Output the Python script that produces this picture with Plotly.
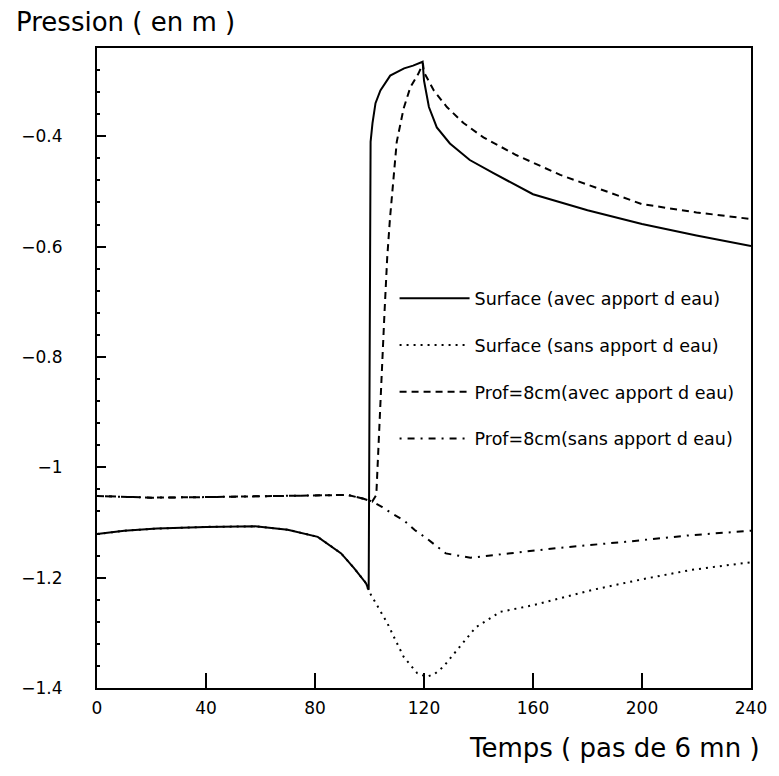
import plotly.graph_objects as go

# ---- data ----
t_surf_avec = [0, 10, 22, 40, 58, 70, 81, 89.6, 94.4, 98.7, 99.7, 100.0, 100.2, 100.4, 101.1, 102.2, 104, 107.6, 112.7, 116, 119.5,
               120, 121.8, 124.7, 129.5, 136.8, 145.5, 153.8, 160, 180, 200, 220, 240]
p_surf_avec = [-1.121, -1.115, -1.111, -1.108, -1.107, -1.113, -1.126, -1.156, -1.183, -1.21, -1.222, -0.95, -0.6, -0.41, -0.376, -0.34, -0.317, -0.29, -0.277, -0.272, -0.265,
               -0.299, -0.347, -0.384, -0.413, -0.443, -0.467, -0.489, -0.505, -0.534, -0.559, -0.58, -0.599]

t_surf_sans = [0, 10, 22, 40, 58, 70, 81, 89.6, 94.4, 98.7, 99.7, 103, 106.5, 109.5, 112.6, 117.5, 121, 124, 127, 133, 139, 148, 160, 182, 200, 218, 240]
p_surf_sans = [-1.121, -1.115, -1.111, -1.108, -1.107, -1.113, -1.126, -1.156, -1.183, -1.21, -1.224, -1.252, -1.282, -1.313, -1.344, -1.373, -1.38, -1.374, -1.362, -1.326, -1.29, -1.262, -1.25, -1.222, -1.203, -1.186, -1.172]

t_prof_avec = [0, 20, 40, 60, 80, 92, 97.8, 101, 102.5, 103.5, 104.5, 105.5, 106.5, 107.5, 108.5, 110, 112.5, 115, 118, 119.6,
               120, 123.6, 128.4, 134.5, 141.8, 153.8, 170, 200, 220, 240]
p_prof_avec = [-1.052, -1.055, -1.054, -1.052, -1.05, -1.05, -1.057, -1.062, -1.05, -0.95, -0.83, -0.72, -0.62, -0.55, -0.49, -0.41, -0.35, -0.311, -0.286, -0.268,
               -0.284, -0.317, -0.347, -0.376, -0.402, -0.434, -0.47, -0.523, -0.538, -0.55]

t_prof_sans = [0, 20, 40, 60, 80, 92, 97.8, 101, 104.7, 108, 112.6, 116.7, 121, 128, 137, 150, 169.5, 194, 218, 240]
p_prof_sans = [-1.052, -1.055, -1.054, -1.052, -1.05, -1.05, -1.057, -1.062, -1.072, -1.083, -1.096, -1.114, -1.129, -1.156, -1.164, -1.157, -1.146, -1.135, -1.123, -1.115]

names = ["Surface (avec apport d eau)", "Surface (sans apport d eau)",
         "Prof=8cm(avec apport d eau)", "Prof=8cm(sans apport d eau)"]

x_ticks = [0, 40, 80, 120, 160, 200, 240]
y_ticks = [-1.4, -1.2, -1.0, -0.8, -0.6, -0.4]

FONT = "DejaVu Sans, Liberation Sans, sans-serif"

fig = go.Figure()
series = [
    (t_surf_avec, p_surf_avec, names[0], "solid", 2),
    (t_surf_sans, p_surf_sans, names[1], "2px,5px", 2),
    (t_prof_avec, p_prof_avec, names[2], "7px,5px", 2),
    (t_prof_sans, p_prof_sans, names[3], "2px,6px,7px,6px", 2),
]
for i, (x, y, n, d, w) in enumerate(series):
    fig.add_trace(go.Scatter(x=x, y=y, mode="lines", name=n, legendgroup=f"g{i}",
                             line=dict(color="black", width=w, dash=d)))

fig.update_layout(
    width=779, height=776,
    margin=dict(l=97, r=22, t=48, b=88),
    paper_bgcolor="white", plot_bgcolor="white",
    font=dict(family=FONT, color="black", size=14),
    legend=dict(x=0.455, y=0.637, xanchor="left", yanchor="top",
                bgcolor="rgba(0,0,0,0)", tracegroupgap=21, itemwidth=70,
                font=dict(size=17.5, family=FONT)),
    showlegend=True,
)
fig.update_xaxes(range=[0, 240], tickvals=x_ticks, ticks="inside", ticklen=15, tickwidth=2,
                 tickcolor="black", showline=True, linecolor="black", linewidth=2, mirror=True,
                 showgrid=False, zeroline=False, tickfont=dict(size=17, family=FONT), ticklabelstandoff=4)
fig.update_yaxes(range=[-1.4, -0.24], tickvals=y_ticks, ticks="inside", ticklen=9, tickwidth=1.5,
                 tickcolor="black", showline=True, linecolor="black", linewidth=2, mirror=True,
                 showgrid=False, zeroline=False, tickfont=dict(size=17, family=FONT), ticklabelstandoff=29,
                 minor=dict(tick0=-1.4, dtick=0.04, ticks="inside", ticklen=3, tickcolor="black", tickwidth=1.5))

fig.add_annotation(text="Pression ( en m )", xref="paper", yref="paper", x=-0.127, y=1.0406,
                   xanchor="left", yanchor="middle", showarrow=False, font=dict(size=26, family=FONT))
fig.add_annotation(text="Temps ( pas de 6 mn )", xref="paper", yref="paper", x=1.0167, y=-0.094,
                   xanchor="right", yanchor="middle", showarrow=False, font=dict(size=26, family=FONT))

fig.write_html("out.html")
